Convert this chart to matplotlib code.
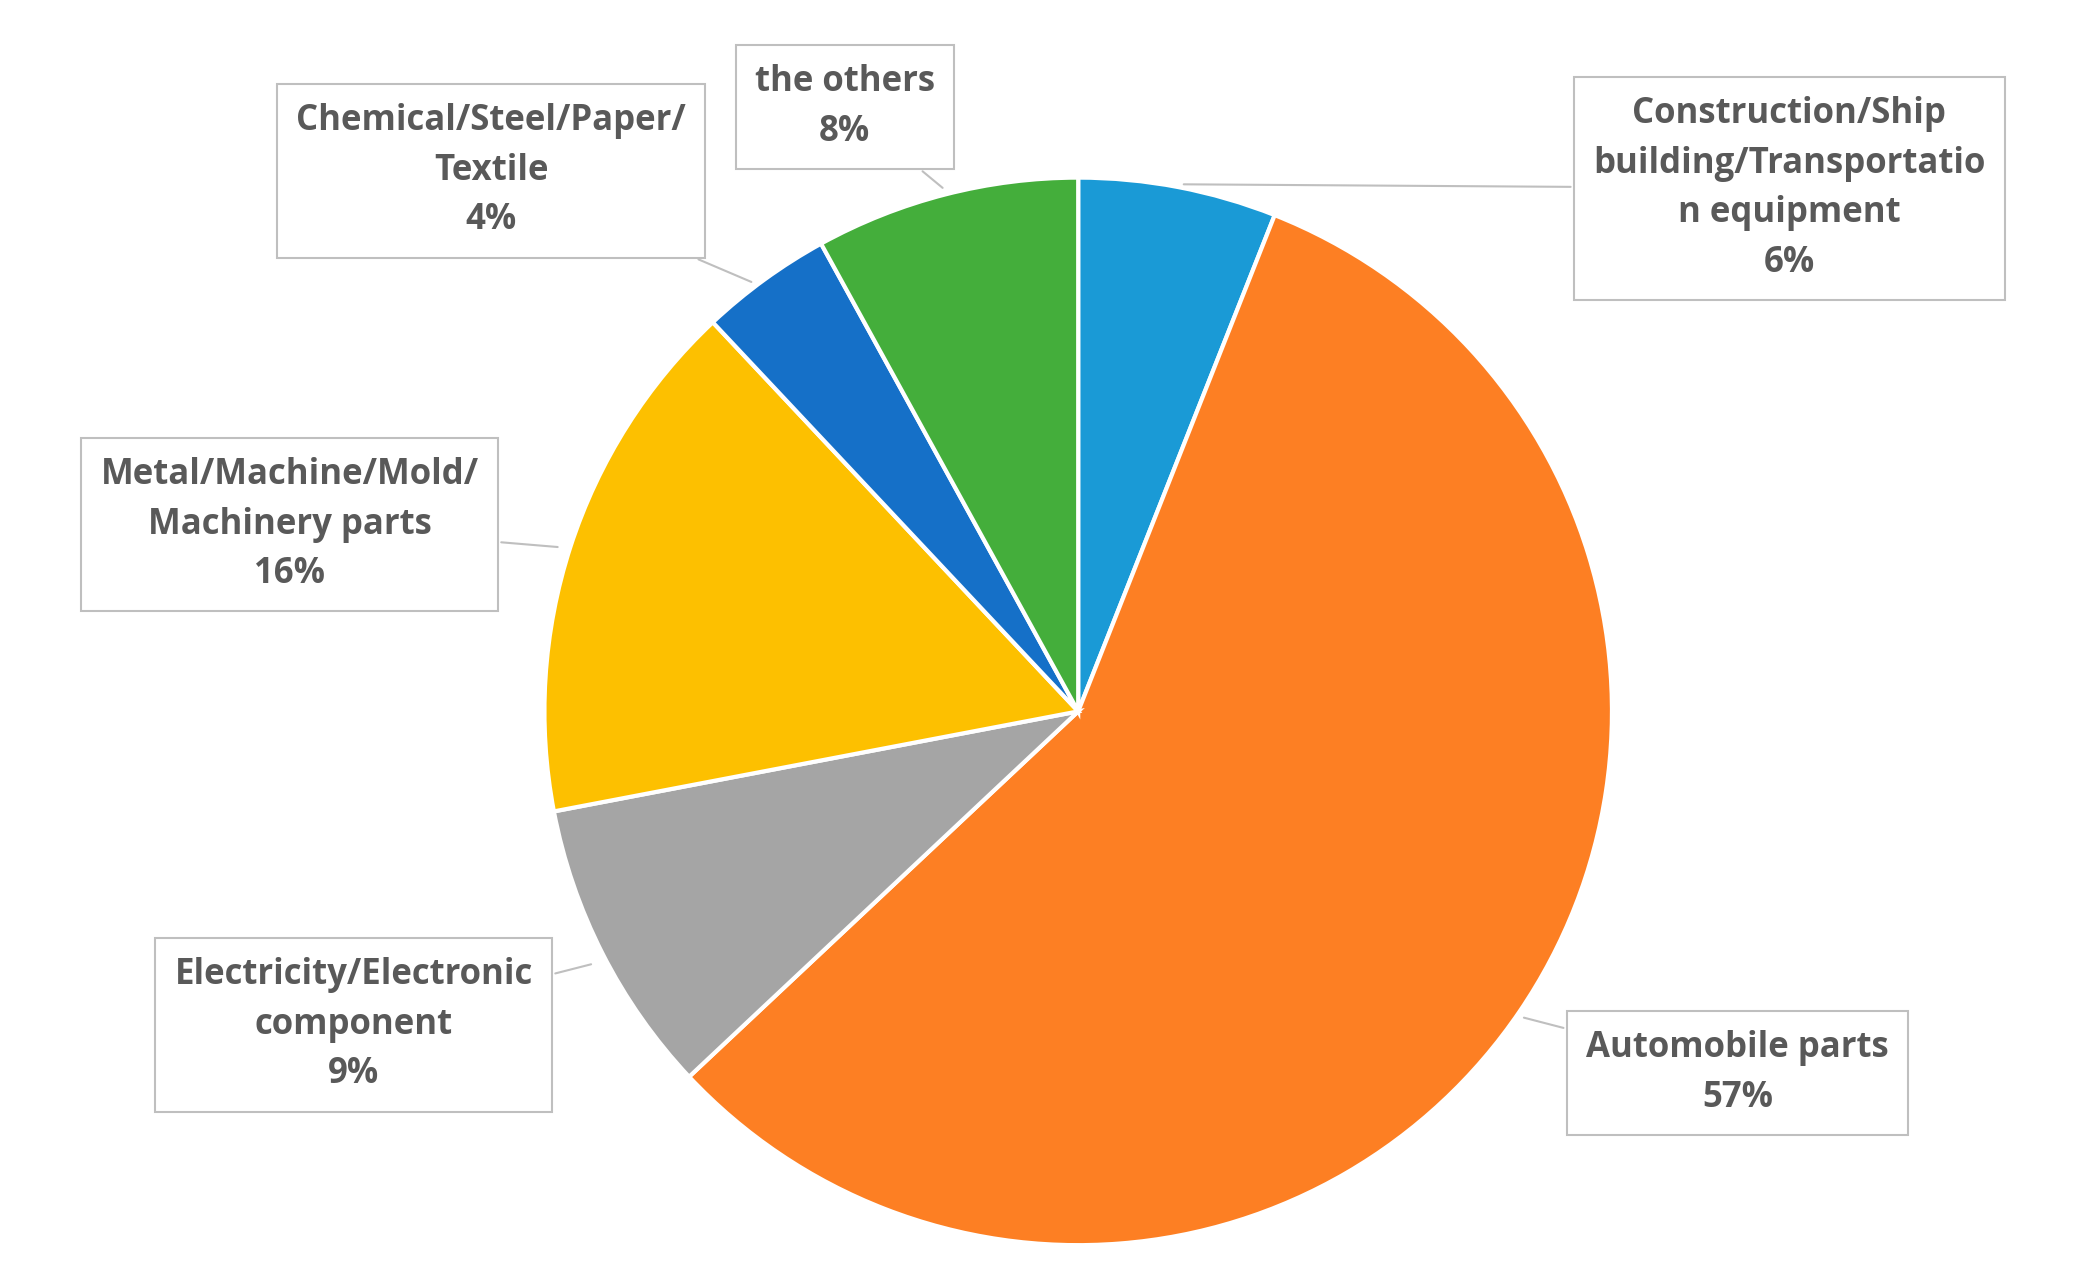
import matplotlib.pyplot as plt

# Data
labels = ["Construction/Ship\nbuilding/Transportatio\nn equipment", "Automobile parts",
          "Electricity/Electronic\ncomponent", "Metal/Machine/Mold/\nMachinery parts",
          "Chemical/Steel/Paper/\nTextile", "the others"]
shares = [6, 57, 9, 16, 4, 8]
colors = ["#1a9ad6", "#fd7f23", "#a5a5a5", "#fdc000", "#1570c8", "#44ae3b"]

# label box centres and arrow targets, in reference pixel coords (y down)
box_xy = [(1341, 141), (1302, 804), (265, 768), (217, 393), (368, 128), (633, 80)]
tip_xy = [(885, 138), (1140, 762), (445, 722), (420, 410), (565, 212), (708, 142)]

W, H = 1555, 965
fig = plt.figure(figsize=(20.75, 12.88), dpi=100)
ax = fig.add_axes([0, 0, 1, 1])

ax.pie(shares, colors=colors, startangle=90, counterclock=False,
       center=(808, H - 533), radius=400,
       wedgeprops=dict(edgecolor="white", linewidth=3))
ax.set_xlim(0, W)
ax.set_ylim(0, H)
ax.set_aspect("equal")
ax.axis("off")

for lab, v, (bx, by), (tx, ty) in zip(labels, shares, box_xy, tip_xy):
    ax.annotate(f"{lab}\n{v}%", xy=(tx, H - ty), xytext=(bx, H - by),
                ha="center", va="center", fontsize=25, fontweight="bold",
                family="Open Sans", color="#595959", linespacing=1.5,
                bbox=dict(boxstyle="square,pad=0.55", fc="white", ec="#bfbfbf", lw=1.5),
                arrowprops=dict(arrowstyle="-", color="#bfbfbf", lw=1.5))

fig.savefig("out.png", dpi=100)
